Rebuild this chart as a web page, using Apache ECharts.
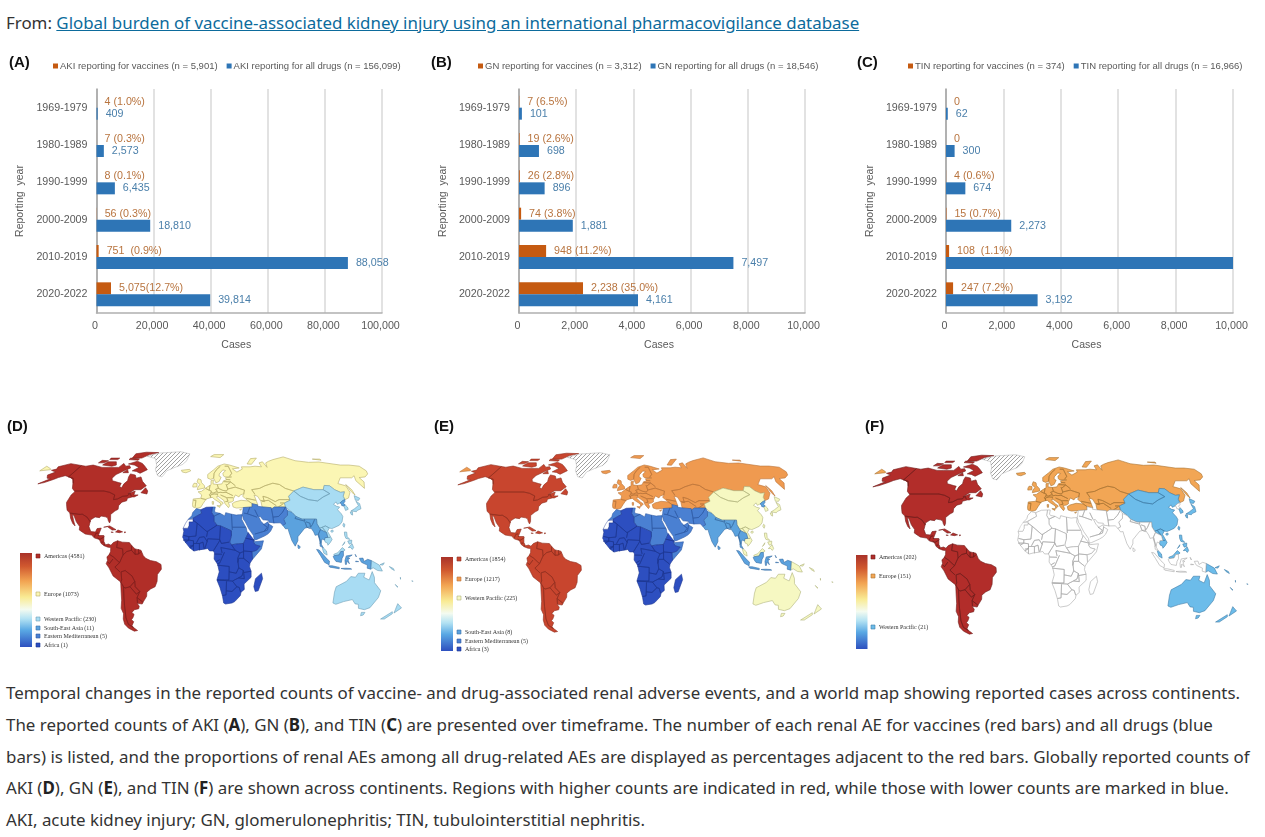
<!DOCTYPE html>
<html><head><meta charset="utf-8">
<script src="https://cdn.jsdelivr.net/npm/echarts@6/dist/echarts.min.js"></script>
<style>
html,body{margin:0;padding:0;background:#fff;overflow:hidden}
#chart{position:absolute;left:0;top:0;width:1265px;height:837px}
.t{position:absolute;left:6px;white-space:nowrap;font-family:"Noto Sans";font-size:16.9px;color:#333;line-height:22px}
.t b{color:#222}
a{color:#0c6b9c;text-decoration:underline}
</style></head><body>
<div class="t" style="top:12px">From: <a href="#">Global burden of vaccine-associated kidney injury using an international pharmacovigilance database</a></div>
<div class="t" style="top:682px">Temporal changes in the reported counts of vaccine- and drug-associated renal adverse events, and a world map showing reported cases across continents.</div>
<div class="t" style="top:714px">The reported counts of AKI (<b>A</b>), GN (<b>B</b>), and TIN (<b>C</b>) are presented over timeframe. The number of each renal AE for vaccines (red bars) and all drugs (blue</div>
<div class="t" style="top:746px">bars) is listed, and the proportions of renal AEs among all drug-related AEs are displayed as percentages adjacent to the red bars. Globally reported counts of</div>
<div class="t" style="top:777px">AKI (<b>D</b>), GN (<b>E</b>), and TIN (<b>F</b>) are shown across continents. Regions with higher counts are indicated in red, while those with lower counts are marked in blue.</div>
<div class="t" style="top:809px">AKI, acute kidney injury; GN, glomerulonephritis; TIN, tubulointerstitial nephritis.</div>
<div id="chart"></div>
<script>
// ---------- bar chart data ----------
const periods = ['1969-1979','1980-1989','1990-1999','2000-2009','2010-2019','2020-2022'];
const akiVaccines = [4,7,8,56,751,5075];
const akiDrugs = [409,2573,6435,18810,88058,39814];
const akiVaccineLabels = ['4 (1.0%)','7 (0.3%)','8 (0.1%)','56 (0.3%)','751  (0.9%)','5,075(12.7%)'];
const gnVaccines = [7,19,26,74,948,2238];
const gnDrugs = [101,698,896,1881,7497,4161];
const gnVaccineLabels = ['7 (6.5%)','19 (2.6%)','26 (2.8%)','74 (3.8%)','948 (11.2%)','2,238 (35.0%)'];
const tinVaccines = [0,0,4,15,108,247];
const tinDrugs = [62,300,674,2273,10465,3192];
const tinVaccineLabels = ['0','0','4 (0.6%)','15 (0.7%)','108  (1.1%)','247 (7.2%)'];
const tinDrugHiddenLabel = [false,false,false,false,true,false];

// ---------- map legend data ----------
const regionNames = ['Americas','Europe','Western Pacific','South-East Asia','Eastern Mediterranean','Africa'];
const countsD = [4581,1073,230,11,5,1];
const countsE = [1854,1217,225,8,5,3];
const countsF = [202,151,21,null,null,null];
const colorsD = ['#b12e28','#fbf6b4','#a8dcf3','#5ba2de','#4a80d2','#2c4ec0'];
const colorsE = ['#c8452e','#ef9a50','#f6f8c2','#5ba2de','#4a80d2','#2d4fc0'];
const colorsF = ['#b22d2a','#f2a655','#6cbcea','#ffffff','#ffffff','#ffffff'];
const bordersD = ['#7e1f1c','#b5ad6a','#6d9db5','#3a6fa5','#2f5ba5','#1d3690'];
const bordersE = ['#8f2f20','#b8743a','#b0b37c','#3a6fa5','#2f5ba5','#1d3690'];
const bordersF = ['#6e1f1c','#a87434','#3f7ca6','#a8a8a8','#a8a8a8','#a8a8a8'];

// ---------- base map outlines, in longitude / latitude ----------
const coastAmericas = [
 [[-168,65.5],[-164,66.5],[-166,68.5],[-156.5,71.3],[-141,69.6],[-135,69],[-128,70],[-115,68],[-108,68],[-96,68],[-94,71.5],[-89,69],[-85,69.5],[-82,67.5],[-87,65],[-93,62],[-94.5,59],[-92.5,57],[-85,55.5],[-82,55],[-82,52.5],[-79.5,51.5],[-79,54.5],[-77,57],[-78,60],[-78,62.5],[-72,61.5],[-69.5,59],[-65,60],[-61.5,56.5],[-56,53],[-60,50],[-66,50],[-71,46.9],[-65,49],[-65,46],[-61,46],[-64,44.5],[-66,44.5],[-70,43.5],[-70,41.6],[-74,40.6],[-76,38],[-75.5,35.3],[-78,34],[-81,31.5],[-80,27],[-80.5,25.2],[-82,27],[-83,29],[-85,29.7],[-89,30.3],[-90,29.1],[-94,29.6],[-97.3,27.5],[-97.7,22.5],[-95.5,18.8],[-91.5,18.5],[-90.5,21],[-87,21.4],[-88,18],[-88.7,15.9],[-84,15.9],[-83.5,11.5],[-82,9],[-79.5,9.6],[-77.4,8.7],[-75.5,10.7],[-72,12],[-68,11],[-62,10.7],[-60,8.5],[-57,6],[-52,5],[-50,1],[-48,-1],[-44,-2.6],[-39,-3.5],[-35.2,-5.5],[-35,-9],[-38.5,-13],[-39,-18],[-41,-22],[-45,-23.7],[-48.5,-26],[-49,-29],[-52.5,-33],[-54,-34.8],[-58.3,-34.2],[-57,-36.5],[-58,-38.3],[-62,-39],[-65,-41],[-63.5,-42.5],[-65.5,-45],[-67.5,-46.5],[-66,-48],[-69,-51],[-68.3,-52.5],[-65.5,-54.8],[-69,-55.3],[-73.5,-53],[-75.5,-50],[-75,-46],[-73,-42],[-73.7,-38],[-71.5,-32],[-70.5,-25],[-70,-18.5],[-76,-14],[-79,-8],[-81.2,-5],[-80,-2.5],[-80.5,0],[-78.5,2],[-77.5,4],[-77.5,7],[-78,7.5],[-80,7.3],[-81.5,7.8],[-83,8.3],[-85.7,10],[-87.5,13],[-91.5,14],[-94.5,16.2],[-100,17],[-105.5,20],[-105.7,22.5],[-109.3,26],[-112.7,30.5],[-114.7,31.7],[-112,27],[-109.7,23],[-112,24.7],[-115,28.5],[-117.2,32.5],[-120.5,34.5],[-122.5,37.5],[-124.3,40.4],[-124,46],[-122.5,48.5],[-127,51],[-130,54.5],[-134,58],[-140,60],[-146,61],[-151,59.5],[-154,58],[-160,55.5],[-165,54.5],[-158,58.5],[-162,59],[-165.5,61.5],[-161,64],[-168,65.5]],
 [[-62,66],[-68,63],[-73,64.5],[-78,65],[-73,68],[-80,70],[-88,71],[-80,73.5],[-72,71.5],[-67,69],[-62,66]],
 [[-117,70],[-105,69],[-101,70],[-105,73],[-115,73],[-117,70]],
 [[-125,72],[-118,72],[-116,74],[-124,74.3],[-125,72]],
 [[-90,76.5],[-78,76.5],[-72,80],[-62,82.5],[-80,83],[-92,81],[-90,76.5]],
 [[-92,75],[-80,74.5],[-80,75.8],[-92,76.5],[-92,75]],
 [[-116,75],[-106,75],[-106,76.5],[-117,76.5],[-116,75]],
 [[-59,47.7],[-53,46.7],[-53,49],[-56,51.5],[-59,47.7]],
 [[-87,63.5],[-81,63.5],[-84,66],[-87,63.5]],
 [[-85,22],[-80,23],[-74.2,20.2],[-77.5,19.9],[-82,22.5],[-85,22]],
 [[-74.4,18.5],[-72.5,20],[-68.4,18.6],[-71,18],[-74.4,18.5]],
 [[-78.3,18.4],[-76.3,18.2],[-77,17.8],[-78.3,18.4]],
 [[-67.2,18.5],[-65.7,18.4],[-66.5,17.9],[-67.2,18.5]]
];
const bordersAmericas = [
 [[-141,69.6],[-141,60],[-135,59],[-130,55]],
 [[-123,49],[-95,49],[-89,48],[-83,46],[-82.5,42.5],[-79,43],[-75,45],[-71,45.3],[-69,47.3],[-67,45]],
 [[-117.2,32.5],[-108,31.5],[-106,31.7],[-101,29.5],[-97.3,26]],
 [[-92,14.5],[-91,17.5],[-89,17.9]],[[-89,16],[-88,15.8]],[[-89,14],[-87,13]],[[-83.5,15],[-87,13]],[[-84,11],[-85.7,11]],[[-83,9.5],[-83,8.3]],
 [[-72,12],[-72.5,7],[-67.5,6],[-67,1.5]],[[-67,1.5],[-70,-4.2]],[[-78.5,2],[-75,0],[-70,-4.2]],[[-80,-3.5],[-78.5,-5],[-75.5,-1.5]],[[-70,-4.2],[-74,-7.5],[-70,-11]],
 [[-69,-11],[-69,-17],[-70,-18.5]],[[-69,-11],[-65.5,-10],[-60,-14],[-58,-18]],[[-58,-18],[-62.5,-22],[-67,-23],[-68,-22]],
 [[-70,-18.5],[-68,-22],[-69,-30],[-70,-36],[-72,-45],[-72,-50],[-68.5,-52.5]],[[-58,-18],[-58,-22],[-54.5,-25.5],[-57.7,-27.5],[-62.5,-22]],
 [[-54.5,-25.5],[-57.5,-30],[-58,-34]],[[-57.5,-30],[-53,-33.5]],[[-60,8.5],[-60,5],[-57,2],[-54,2.2],[-52,4]],[[-57,6],[-57,2]],[[-54,5.8],[-54,2.2]],[[-60,5],[-64,4],[-67,1.5]]
];
const coastEurope = [
 [[-9,37],[-9.5,38.8],[-9,43],[-2,43.5],[-1.2,46],[-4.7,48.4],[-1.5,48.7],[1.5,50.5],[4,52],[8,53.8],[8.2,57],[10.7,57.6],[10,54.5],[14,54],[19,54.5],[21,57],[24,57.5],[23.5,59.3],[30,60],[23,60],[21.5,61],[21.5,63],[25,65.3],[22,65.8],[17.5,62.5],[17,60.7],[19,59.8],[16.5,56.5],[14.5,55.7],[13,55.3],[11,59],[8,58],[5,59],[5,62],[12,66],[17,69],[25,71],[31,70],[41,67.5],[33,66.7],[37,64],[44,66.5],[44,68.5],[54,68.5],[60,69],[67,68.5],[67,72],[72,73],[73,68],[75,72],[80,73.5],[87,75],[104,77.7],[113,74],[127,72.5],[140,72.8],[160,70],[170,70],[180,69],[180,65],[177,62.5],[170,60],[163,59.5],[163,56],[157,51],[156,57],[160,61],[155,59.3],[143,59.3],[135,54.7],[141,53],[140,48],[135,43.7],[130.7,42.5],[131,45],[135,48.4],[131,48],[127,50],[125,53],[120,53.3],[116,50],[107,50],[98,52],[87,49],[80,45],[80,42],[74,40],[74,37],[68,37],[64,37],[61,35.5],[61,36.5],[54,37],[53,37],[53,41],[51,45],[48,46],[49,41],[49.5,38.5],[44.5,39.5],[44,37],[36,36.6],[30,36.2],[27,37],[26.5,39.5],[29,40.7],[35,42],[41.5,41.5],[37,45],[39,47],[35,46],[33.5,44.5],[30.5,46],[28,43],[28,41.7],[27,41],[26,40.7],[23,40.3],[24,38],[22.8,36.5],[20,39.5],[19,42],[14,45],[12.5,44.5],[16,41.5],[18.5,40],[16,38],[15.7,40],[11,42.5],[8.5,44.3],[3,43],[0,39.5],[-2,36.8],[-5.5,36],[-9,37]],
 [[-180,65],[-170,66],[-172,67],[-180,69],[-180,65]],
 [[-5.5,50],[1.5,51.3],[1.5,53],[-1.5,55.5],[-2,57.7],[-5,58.6],[-6,56],[-3,54],[-5,52],[-5.5,50]],
 [[-10,52],[-6,52.2],[-6,54.8],[-9,55],[-10,53.5],[-10,52]],
 [[-24,65.5],[-15,66.3],[-13.5,65],[-18.5,63.4],[-22.5,64],[-24,65.5]],
 [[10,78],[22,77],[28,80],[15,80],[10,78]],
 [[52,71],[57,70.7],[68,76.5],[60,76],[52,71]],
 [[12.5,38],[15.5,38],[15,36.7],[12.5,38]],[[8.3,41],[9.7,41],[9.5,39],[8.5,39],[8.3,41]],
 [[32.5,35],[34.5,35.5],[33,34.6],[32.5,35]],
 [[142,54],[143.5,50],[143,46],[141.8,48],[142,54]],
 [[137,75.5],[146,75.5],[146,74.5],[137,75.5]]
];
const bordersEurope = [
 [[-1.8,43.4],[3,42.5]],[[-8.8,42],[-6.5,42],[-7,37.2]],[[2.5,51],[6,49.5],[8,49],[7.5,47.5],[6,46.2],[7.5,44]],
 [[14.2,54],[15,51],[12.2,50.3],[13.8,48.7],[10,47.5],[7.6,47.6]],[[7,53.5],[6,49.5]],[[23,54.3],[24,50.5],[22.5,49]],[[15,51],[19,49.5],[22.5,49]],
 [[13,47.5],[16.5,48],[18.8,47.8],[22.5,48]],[[7,44],[7,46],[10.5,46.8],[13.7,46.5],[13.7,45.6]],[[16.5,46],[22,44],[22.9,41.3],[20.5,41]],[[22,48],[28,45.5]],[[22.5,44],[28,43.9]],
 [[24,50.5],[31.5,52],[40,49.6],[38.5,47]],[[23.5,53.5],[28,56],[32,53]],[[21,56.3],[28,56]],[[24,58],[28,57.7]],[[28,60.5],[31,63],[29,69],[25,69]],[[11,59],[12,63],[15,66],[20,69]],
 [[49,46.5],[47,50],[55,51],[61,53],[70,55],[76,54],[80,51],[87,49]],[[53,42],[56,41],[56,45],[60,44],[66,41],[70,42.5],[80,42.5]],[[54,41.3],[60,42],[66,38]],[[70,40],[74,40]],[[67.5,37],[73,39.5]],[[40,43.5],[48.5,42]],[[41.5,41.5],[44.5,39.5]]
];
const coastPacific = [
 [[87,49],[98,52],[107,50],[116,50],[120,53.3],[125,53],[127,50],[131,48],[135,48.4],[131,45],[130.7,42.5],[128,41.7],[124.5,40],[121.5,39],[121.5,40.8],[118,39],[120,37.5],[122.5,37],[119.5,35],[121.5,32],[122,30],[120,26],[117,23.5],[113,22],[110,21],[108,21.5],[106,19],[109,13],[107,10.5],[105,8.7],[104.8,10.3],[103,11],[102.5,12.5],[103,14.3],[105.5,14.5],[105,18],[100.2,20.3],[98,24.5],[98.5,28],[92,28],[86,28],[81,30],[78.5,33],[74,37],[74,40],[80,42],[80,45],[87,49]],
 [[101,6.8],[103.5,4.5],[104,1.4],[101.3,2.8],[100.2,6.5],[101,6.8]],
 [[109.6,2],[113,3.2],[117,7],[119.2,5.2],[117.7,4.2],[115.5,4],[114,1.5],[110,1],[109.6,2]],
 [[141,-2.6],[145,-4.5],[148,-6],[151,-10.4],[147,-10],[143,-8],[141,-9],[141,-2.6]],
 [[148.5,-5.7],[152,-4.3],[151,-6],[148.5,-5.7]],[[156.5,-7],[160,-8.5],[161,-10],[158,-8.5],[156.5,-7]],
 [[114,-22],[113.5,-26],[115,-34],[118,-35],[124,-33],[131,-31.5],[135,-34.7],[138,-35],[140,-38],[146,-39],[150,-37.5],[153,-30],[153,-25],[146,-19],[145,-15],[142.5,-10.8],[141,-17],[136,-15],[136.5,-12],[131,-12],[129,-15],[125,-14.5],[122,-18],[114,-22]],
 [[144.7,-41],[148,-41],[148,-43],[146,-43.5],[144.7,-41]],
 [[172.7,-34.5],[178.5,-37.7],[175,-41.5],[174,-39],[172.7,-34.5]],[[172.5,-40.5],[174,-42],[170.5,-46],[167,-46],[170,-43],[172.5,-40.5]],
 [[130.9,34],[135,35.7],[140,38],[140,41.3],[142,39.5],[140.8,35.7],[137,34.5],[135.5,33.5],[132,34],[130.9,34]],
 [[130,33.3],[132,33.5],[131,31],[130,31.5],[130,33.3]],[[140,42],[141.7,45.5],[145.3,43.5],[143,42],[140,42]],
 [[121,25],[122,24],[120.8,22],[120,23.5],[121,25]],[[108.7,19.3],[110.5,20],[111,19],[109.5,18.2],[108.7,19.3]],
 [[120.3,18.5],[122.2,18.4],[122,15],[124,13],[120.7,13.8],[120,16],[120.3,18.5]],[[122,7],[125.5,9.7],[126.5,7],[125.3,5.6],[124,7],[122,7]],
 [[122,11.8],[125.5,12.5],[125,10],[123,9.5],[122,11.8]],[[117.2,8.5],[119.5,11.3],[119,10],[117.2,8.5]],
 [[126.7,37.8],[128.3,38.6],[129.4,37],[129.2,35.3],[126.4,34.4],[126.6,37],[126.7,37.8]],
 [[164,-20.3],[167,-22.3],[166,-22],[164,-20.3]],[[177.3,-17.7],[178.6,-18],[178,-18.3],[177.3,-17.7]],[[167,-15],[167.5,-16.5],[168,-16],[167,-15]]
];
const bordersPacific = [
 [[87,49],[91,45],[97,42.5],[105,41.5],[112,44.5],[120,47],[116,50]],[[102,22],[105,23],[108,21.5]],[[100.2,21.5],[102,22],[105,18]],[[107.5,14.5],[105.5,14.5]]
];
const coastSouthEastAsia = [
 [[78.5,33],[81,30],[86,28],[92,28],[98.5,28],[98,24.5],[100.2,20.3],[105,18],[105.5,14.5],[103,14.3],[102.5,12.5],[102,12],[100.8,13.3],[100,12],[99.5,9.5],[101,6.8],[100.2,6.5],[98.5,8],[98.5,12],[97.5,16.5],[95,16],[94.2,18.5],[92,22],[90,22],[87,21.3],[85,19.5],[80.3,15],[80,12],[77.5,8],[75,12],[73,19],[72.7,21],[70.5,20.8],[68.5,23.5],[71,24.5],[70,28],[74,31],[74.8,34.5],[78.5,33]],
 [[79.8,9],[81.8,7.5],[80.5,6],[79.8,7],[79.8,9]],
 [[95.3,5.6],[97.5,5.2],[104,-1.5],[106,-3],[105.8,-5.8],[102,-4],[98.5,1],[95.3,5.6]],
 [[105.5,-6.5],[108.5,-6.5],[114.5,-7.7],[114.5,-8.7],[106.5,-7.5],[105.5,-6.5]],
 [[116,-8.5],[120,-8.3],[124,-8.5],[125,-9],[119,-9],[116,-8.5]],
 [[109,0.5],[110,1],[114,1.5],[115.5,4],[117.7,4.2],[117.7,1],[116.5,-1],[116,-4],[111.5,-3.3],[110,-1.5],[109,0.5]],
 [[119.5,-5.5],[119,-2.5],[120,0.8],[125,1.5],[121,-0.8],[123,-1],[121.5,-2],[122.8,-5],[120.5,-3],[120.3,-5.5],[119.5,-5.5]],
 [[127.5,2],[128.5,0],[127.7,-0.5],[127.5,2]],[[128,-3],[130.5,-3.4],[128,-3.5],[128,-3]],
 [[131,-1],[134,-0.8],[135,-3.3],[138,-1.7],[141,-2.6],[141,-9],[138,-8.3],[138,-6],[133,-4],[132,-2.8],[131,-1]],
 [[124.5,40],[128,41.7],[130.7,42.5],[129.7,41],[127.5,39.7],[128.3,38.6],[126.7,37.8],[125,38],[125.3,39.5],[124.5,40]]
];
const bordersSouthEastAsia = [
 [[81,30],[80,28.5],[88,26.5],[88,28]],[[88,26],[89,22],[92,21]],[[89,26],[92,25],[92,22]],[[92,22],[94,24],[97,28]],[[100.2,20.3],[98,17],[99,11],[98.5,10]]
];
const coastMediterranean = [
 [[36,36.6],[44,37],[44.5,39.5],[49.5,38.5],[49,37.5],[54,37],[61,36.5],[61,35.5],[64,37],[68,37],[74,37],[74.8,34.5],[74,31],[70,28],[71,24.5],[68.5,23.5],[66.5,25.3],[61.6,25.2],[57,25.7],[56.5,27.2],[52,27.5],[50,30],[48.5,29.8],[48,29.5],[50,26.5],[51.5,25],[52,24],[56,26],[56.5,24.5],[59.8,22.5],[57.5,19],[55,17],[52,15.5],[45,12.8],[43.3,12.7],[42.7,16],[39,21],[36.5,26],[35,28],[34.9,29.5],[34.3,31.3],[35,33],[36,36.6]],
 [[-5.9,35.8],[-2,35],[-1.2,32.3],[-8.7,28.7],[-13,27.7],[-9.8,30.5],[-9,33],[-5.9,35.8]],
 [[8.5,37],[11,37],[10.2,34],[11,33],[15,32.3],[19,30.4],[20,32.8],[25,31.7],[29,31],[32,31.3],[34.3,31.3],[33.5,28],[35.5,24],[37,21.5],[37.5,18.5],[38.5,18],[36.5,14.3],[34,10],[30,9.8],[27,9.5],[24,9],[22.5,11],[24,15.7],[24,19.5],[15,23],[12,23.5],[9.5,26.5],[9.5,30],[7.6,33],[8.5,37]],
 [[43,12.5],[43.3,11.3],[51,12],[49,6],[41.5,-1.7],[41,3.9],[45,5],[48,8],[44,9],[42.5,11],[43,12.5]]
];
const bordersMediterranean = [
 [[36,32.5],[39,32],[47,29.5]],[[42,37],[39,32]],[[46,35],[48,30]],[[61,25],[61,31],[61,35.5]],[[70,33],[66,30],[61,29.5]],[[74,37],[71,34],[70,33]],[[44,17],[52,19],[55,20],[56.5,24.5]],[[52,19],[55,22],[51.5,24.5]],
 [[9,30],[15,32.3]],[[25,31.7],[25,20]],[[25,22],[36.5,22]],[[24,19.5],[24,15.7]]
];
const coastAfrica = [
 [[-2,35],[3,36.8],[8.5,37],[7.6,33],[9.5,30],[9.5,26.5],[12,23.5],[15,23],[24,19.5],[24,15.7],[22.5,11],[24,9],[27,9.5],[30,9.8],[34,10],[36.5,14.3],[38.5,18],[43,12.5],[42.5,11],[44,9],[48,8],[45,5],[41,3.9],[41.5,-1.7],[39.5,-4.5],[39,-7],[40.5,-10.5],[40.7,-15],[35,-20],[35.5,-24],[32.8,-26],[32.5,-28.5],[28,-33],[25.7,-34],[20,-34.8],[18.3,-34],[17,-29],[14.5,-22.5],[11.8,-17],[13.7,-11],[12.3,-5.5],[9.3,-1.5],[9.6,3],[8.7,4.5],[5.5,4.5],[4,6.3],[1,5.8],[-4,5.2],[-7.5,4.4],[-11,6.7],[-13.5,9.5],[-15,11],[-17.2,14.7],[-16.3,19],[-17,21.3],[-13,21.3],[-12,23.4],[-12,26],[-8.7,26],[-8.7,27.7],[-8.7,28.7],[-1.2,32.3],[-2,35]],
 [[49.3,-12],[50.5,-16],[47.5,-25],[45,-25.5],[43.5,-22],[44.5,-16],[49.3,-12]]
];
const bordersAfrica = [
 [[-8.7,27.3],[-5,25],[-6,15.5],[-12,15]],[[-16.5,16],[-12,15],[-12,12.5],[-16.8,12.5]],[[-15,11],[-12,12.5],[-8,12],[-8,8.5],[-11,8]],[[-11,6.7],[-8,8.5]],[[-8,4.4],[-8,10],[-3,10],[-3,5]],[[-3,10],[0,11],[1,6]],[[1.5,6.2],[3.5,11.5]],[[-5.5,10.5],[-3,14.5],[1,15],[3.5,11.5]],[[3,15],[4,19],[12,23.5]],[[-5,25],[3,19],[4,19]],[[3.5,11.5],[4,13.5],[14,13]],[[8.7,4.5],[14,12],[14,13]],[[15,23],[14,13],[15.5,10],[22,11]],[[15,7],[27,5],[24,9]],[[15,7],[16,3]],[[9.7,2.2],[16,2]],[[18,3.5],[14,-4.5],[12,-5]],[[11,-3.5],[14,-2]],[[12,-6],[22,-7],[22,-11],[28,-12],[30,-8],[29,-1],[31,3],[27,5]],[[22,-11],[22,-17],[12,-17]],[[12,-17],[25,-17.8]],[[20,-18],[20,-28],[17,-28.5]],[[20,-25],[25,-25.5],[29,-22]],[[25,-17.8],[29,-22],[31,-22.5],[32.5,-26]],[[25,-17.8],[30,-15.5],[33,-14]],[[33,-14],[34,-10],[30,-8]],[[34,-10],[35,-16],[30,-15.5]],[[34.5,-11.5],[40.5,-10.5]],[[30,-1],[34,-1],[39,-4.5]],[[29,-4],[30,-1]],[[34,-1],[34,4.5],[41,3.9]],[[34,10],[34,4.5]],[[36,14],[43,12.5]],[[31,3],[34,4]]
];
const coastGreenland = [[[-73,78.3],[-60,82],[-32,83.6],[-18,81],[-20,74],[-24,70.5],[-32,68],[-40,65],[-43,60],[-48,61],[-53,66],[-54,70],[-60,76],[-73,78.3]]];
const coastWesternSahara = [[[-13,27.7],[-8.7,27.7],[-8.7,26],[-12,26],[-12,23.4],[-13,21.3],[-17,21.3],[-15,25],[-13,27.7]]];

// ---------- Robinson projection ----------
const robLat = [0,5,10,15,20,25,30,35,40,45,50,55,60,65,70,75,80,85,90];
const robLen = [1,.9986,.9954,.99,.9822,.973,.96,.9427,.9216,.8962,.8679,.835,.7986,.7597,.7186,.6732,.6213,.5722,.5322];
const robDep = [0,.062,.124,.186,.248,.31,.372,.434,.4958,.5571,.6176,.6769,.7346,.7903,.8435,.8936,.9394,.9761,1];
const pxPerDeg = 1.194, pxPerDep = 109;
function lerpTable(t,a){const i=Math.min(17,Math.floor(a/5));const f=(a-robLat[i])/5;return t[i]+(t[i+1]-t[i])*f;}
function robinson(c){const a=Math.abs(c[1]);return [pxPerDeg*c[0]*lerpTable(robLen,a), -Math.sign(c[1])*pxPerDep*lerpTable(robDep,a)];}
const projection={project:robinson,unproject:p=>[p[0]/pxPerDeg,-p[1]/pxPerDep]};

// border polylines are closed out-and-back so they stroke like region edges
const ring = l => l.concat(l.slice(0,-1).reverse());
const region = (name,coast,borders) => ({type:'Feature',properties:{name},geometry:{type:'MultiPolygon',coordinates:coast.concat((borders||[]).map(ring)).map(r=>[r])}});
const worldJson = {type:'FeatureCollection',features:[
 region('Americas',coastAmericas,bordersAmericas),region('Europe',coastEurope,bordersEurope),region('Western Pacific',coastPacific,bordersPacific),
 region('South-East Asia',coastSouthEastAsia,bordersSouthEastAsia),region('Eastern Mediterranean',coastMediterranean,bordersMediterranean),region('Africa',coastAfrica,bordersAfrica),
 region('Greenland',coastGreenland),region('Western Sahara',coastWesternSahara)
]};
['whoD','whoE','whoF'].forEach(n=>echarts.registerMap(n,JSON.parse(JSON.stringify(worldJson))));
let xs=[],ys=[];
worldJson.features.forEach(f=>f.geometry.coordinates.forEach(p=>p[0].forEach(c=>{const q=robinson(c);xs.push(q[0]);ys.push(q[1]);})));
const mapBox={x0:Math.min(...xs),x1:Math.max(...xs),y0:Math.min(...ys),y1:Math.max(...ys)};

const hatch=document.createElement('canvas');hatch.width=hatch.height=4;
(()=>{const g=hatch.getContext('2d');g.fillStyle='#fff';g.fillRect(0,0,4,4);g.strokeStyle='#8a8a8a';g.lineWidth=.8;
 g.beginPath();g.moveTo(-1,5);g.lineTo(5,-1);g.moveTo(-1,1);g.lineTo(1,-1);g.moveTo(3,5);g.lineTo(5,3);g.stroke();})();

// ---------- layout ----------
const ORANGE='#c55a11',BLUE='#2e75b6',ORANGE_TXT='#b8743f',BLUE_TXT='#4a7faa',GREY='#595959',FF='"Liberation Sans",Arial,sans-serif';
const panels=[
 {tag:'(A)',tagX:9,x0:96.5,x1:382,max:100000,iv:20000,vac:akiVaccines,drug:akiDrugs,lab:akiVaccineLabels,nameV:'AKI reporting for vaccines (n = 5,901)',nameD:'AKI reporting for all drugs (n = 156,099)',legX:53,nameX:19},
 {tag:'(B)',tagX:431,x0:519,x1:805,max:10000,iv:2000,vac:gnVaccines,drug:gnDrugs,lab:gnVaccineLabels,nameV:'GN reporting for vaccines (n = 3,312)',nameD:'GN reporting for all drugs (n = 18,546)',legX:478,nameX:442},
 {tag:'(C)',tagX:857,x0:946,x1:1233,max:10000,iv:2000,vac:tinVaccines,drug:tinDrugs,lab:tinVaccineLabels,nameV:'TIN reporting for vaccines (n = 374)',nameD:'TIN reporting for all drugs (n = 16,966)',hide:tinDrugHiddenLabel,legX:908,nameX:869}
];
const grid=[],xAxis=[],yAxis=[],series=[],legend=[],graphic=[];
panels.forEach((p,i)=>{
 grid.push({left:p.x0,width:p.x1-p.x0,top:89,height:224});
 xAxis.push({gridIndex:i,type:'value',min:0,max:p.max,interval:p.iv,name:'Cases',nameLocation:'middle',nameGap:27,nameTextStyle:{color:GREY,fontSize:10.5,fontFamily:FF,padding:[0,6,0,0]},
  axisLine:{show:true,lineStyle:{color:'#b0b0b0',width:1.5}},axisTick:{show:false},splitLine:{show:true,lineStyle:{color:'#d9d9d9',width:1.5}},
  axisLabel:{color:GREY,fontSize:10.7,fontFamily:FF,margin:8,padding:[0,3,0,0],formatter:v=>v.toLocaleString('en-US'),showMinLabel:true,showMaxLabel:true,hideOverlap:false}});
 yAxis.push({gridIndex:i,type:'category',inverse:true,data:periods,name:'Reporting  year',nameLocation:'middle',nameGap:p.x0-p.nameX-7,nameRotate:90,nameTextStyle:{color:GREY,fontSize:10.5,fontFamily:FF},
  axisLine:{show:true,lineStyle:{color:'#a0a0a0',width:1.5}},axisTick:{show:false},axisLabel:{color:GREY,fontSize:10.7,fontFamily:FF,margin:9}});
 series.push({type:'bar',name:p.nameV,xAxisIndex:i,yAxisIndex:i,barWidth:12,barGap:0,itemStyle:{color:ORANGE},data:p.vac,
  label:{show:true,position:'right',distance:8,color:ORANGE_TXT,fontSize:10.7,fontFamily:FF,formatter:o=>p.lab[o.dataIndex]}});
 series.push({type:'bar',name:p.nameD,xAxisIndex:i,yAxisIndex:i,barWidth:12,barGap:0,itemStyle:{color:BLUE},data:p.drug,
  label:{show:true,position:'right',distance:8,color:BLUE_TXT,fontSize:10.7,fontFamily:FF,formatter:o=>(p.hide&&p.hide[o.dataIndex])?'':o.value.toLocaleString('en-US')}});
 legend.push({left:p.legX,top:61,padding:0,itemWidth:5,itemHeight:5,itemGap:9,icon:'rect',data:[p.nameV,p.nameD],selectedMode:false,textStyle:{color:GREY,fontSize:9.5,fontFamily:FF,padding:[0,0,0,-3]}});
 graphic.push({type:'text',left:p.tagX,top:55,style:{text:p.tag,font:'bold 15px '+FF,fill:'#111'}});
});

const maps=[
 {id:'whoD',tag:'(D)',tagX:7,tagY:419,lon0:203,eq:557,counts:countsD,cols:colorsD,bord:bordersD,strip:[20,553,12,94],mx:38,tx:44,rows:[556,594,619,628,636,645]},
 {id:'whoE',tag:'(E)',tagX:434,tagY:419,lon0:623,eq:558,counts:countsE,cols:colorsE,bord:bordersE,strip:[441,557,12,94],mx:459,tx:465,rows:[559,579,598,632,641,649]},
 {id:'whoF',tag:'(F)',tagX:865,tagY:419,lon0:1038,eq:560,counts:countsF,cols:colorsF,bord:bordersF,strip:[856,555,11.5,94],mx:873,tx:879,rows:[557,576,627,null,null,null]}
];
const stripStops=[{offset:0,color:'#a93229'},{offset:.14,color:'#d0582f'},{offset:.3,color:'#f2a452'},{offset:.47,color:'#f9eb94'},{offset:.6,color:'#f4fbf0'},{offset:.7,color:'#b3e2f3'},{offset:.82,color:'#5aa9e4'},{offset:1,color:'#2d50bf'}];
maps.forEach(m=>{
 const data=regionNames.map((n,k)=>({name:n,value:m.counts[k]==null?0:m.counts[k],itemStyle:{areaColor:m.cols[k],borderColor:m.bord[k],borderWidth:.6}}));
 data.push({name:'Greenland',value:0,itemStyle:{areaColor:{image:hatch,repeat:'repeat'},borderColor:'#999',borderWidth:.4}});
 data.push({name:'Western Sahara',value:0,itemStyle:{areaColor:'#ffffff',borderColor:m.bord[5],borderWidth:.4}});
 series.push({type:'map',map:m.id,projection,roam:false,silent:true,selectedMode:false,showLegendSymbol:false,
  left:m.lon0+mapBox.x0,top:m.eq+mapBox.y0,width:mapBox.x1-mapBox.x0,height:mapBox.y1-mapBox.y0,
  label:{show:false},emphasis:{disabled:true},data});
 graphic.push({type:'text',left:m.tagX,top:m.tagY,style:{text:m.tag,font:'bold 15px '+FF,fill:'#111'}});
 graphic.push({type:'rect',shape:{x:m.strip[0],y:m.strip[1],width:m.strip[2],height:m.strip[3]},style:{fill:new echarts.graphic.LinearGradient(0,0,0,1,stripStops)}});
 regionNames.forEach((n,k)=>{
  if(m.counts[k]==null)return;
  graphic.push({type:'rect',shape:{x:m.mx-2,y:m.rows[k]-2,width:4,height:4},style:{fill:m.cols[k],stroke:m.bord[k],lineWidth:.6}});
  graphic.push({type:'text',x:m.tx,y:m.rows[k],style:{text:n+' ('+m.counts[k]+')',font:'6px "Liberation Serif",serif',fill:'#333',verticalAlign:'middle'}});
 });
});

const chart=echarts.init(document.getElementById('chart'),null,{renderer:'canvas'});
chart.setOption({animation:false,backgroundColor:'transparent',tooltip:{show:false},grid,xAxis,yAxis,series,legend,graphic:{elements:graphic}});
</script>
</body></html>
